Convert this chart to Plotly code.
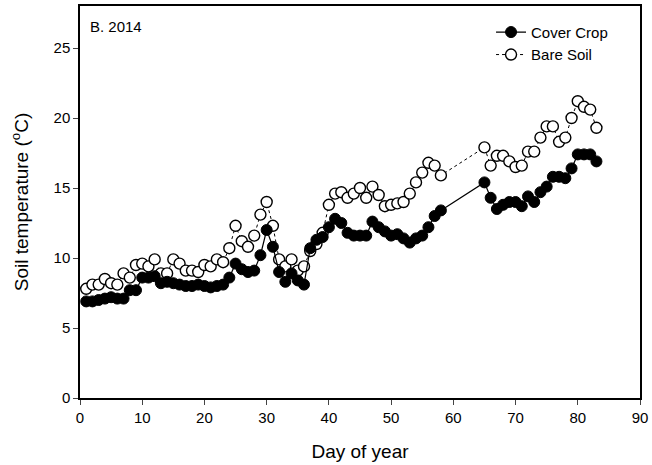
import plotly.graph_objects as go

days_cc = list(range(1, 59)) + list(range(65, 84))
cover_crop = [6.9, 6.9, 7.0, 7.1, 7.2, 7.1, 7.1, 7.7, 7.7, 8.6,
              8.6, 8.7, 8.2, 8.3, 8.2, 8.1, 8.0, 8.0, 8.1, 8.0,
              7.9, 8.0, 8.1, 8.6, 9.6, 9.2, 9.0, 9.1, 10.2, 12.0,
              10.8, 9.0, 8.3, 8.9, 8.4, 8.1, 10.7, 11.3, 11.5, 12.2,
              12.8, 12.5, 11.8, 11.6, 11.6, 11.6, 12.6, 12.2, 11.9, 11.6,
              11.7, 11.4, 11.1, 11.4, 11.6, 12.2, 13.0, 13.4,
              15.4, 14.3, 13.5, 13.8, 14.0, 14.0, 13.7, 14.4, 14.0, 14.7,
              15.1, 15.8, 15.8, 15.7, 16.4, 17.4, 17.4, 17.4, 16.9]

days_bs = list(range(1, 59)) + list(range(65, 84))
bare_soil = [7.8, 8.1, 8.1, 8.5, 8.2, 8.1, 8.9, 8.6, 9.5, 9.6,
             9.4, 9.9, 8.9, 8.9, 9.9, 9.6, 9.1, 9.1, 9.0, 9.5,
             9.4, 9.9, 9.7, 10.7, 12.3, 11.2, 10.8, 11.6, 13.1, 14.0,
             12.3, 9.9, 9.4, 9.9, 9.1, 9.4, 10.5, 11.0, 11.8, 13.8,
             14.6, 14.7, 14.3, 14.6, 15.0, 14.3, 15.1, 14.5, 13.7, 13.8,
             13.9, 14.0, 14.6, 15.4, 16.1, 16.8, 16.6, 15.9,
             17.9, 16.6, 17.3, 17.3, 16.9, 16.5, 16.6, 17.6, 17.6, 18.6,
             19.4, 19.4, 18.3, 18.6, 20.0, 21.2, 20.8, 20.6, 19.3]

x_ticks = [0, 10, 20, 30, 40, 50, 60, 70, 80, 90]
y_ticks = [0, 5, 10, 15, 20, 25]

FONT = "Arial, Liberation Sans, sans-serif"

fig = go.Figure()
fig.add_trace(go.Scatter(
    x=days_bs, y=bare_soil, mode="lines+markers", name="Bare Soil",
    line=dict(color="black", width=1, dash="dot"),
    marker=dict(symbol="circle", size=11, color="white",
                line=dict(color="black", width=1.4)),
))
fig.add_trace(go.Scatter(
    x=days_cc, y=cover_crop, mode="lines+markers", name="Cover Crop",
    line=dict(color="black", width=1.2),
    marker=dict(symbol="circle", size=11, color="black",
                line=dict(color="black", width=1)),
))

fig.update_layout(
    width=652, height=465,
    margin=dict(l=80, r=12, t=6, b=67),
    paper_bgcolor="white", plot_bgcolor="white",
    font=dict(family=FONT, size=15, color="black"),
    showlegend=True,
    legend=dict(x=0.734, y=0.975, xanchor="left", yanchor="top",
                traceorder="reversed", bgcolor="rgba(0,0,0,0)",
                font=dict(size=15), itemwidth=30, tracegroupgap=0),
    annotations=[dict(text="B. 2014", x=0.014, y=0.975, xref="paper", yref="paper",
                      xanchor="left", yanchor="top", showarrow=False,
                      font=dict(size=15))],
)
fig.update_xaxes(
    range=[0, 90], tickvals=x_ticks, ticks="outside", ticklen=5, tickwidth=1.2,
    showline=True, linecolor="black", linewidth=1.5, mirror=True,
    showgrid=False, zeroline=False, automargin=False,
    tickfont=dict(size=15),
    title=dict(text="Day of year", font=dict(size=19), standoff=20),
)
fig.update_yaxes(
    range=[0, 28], tickvals=y_ticks, ticks="outside", ticklen=5, tickwidth=1.2,
    showline=True, linecolor="black", linewidth=1.5, mirror=True,
    showgrid=False, zeroline=False, automargin=False,
    tickfont=dict(size=15),
    title=dict(text="Soil temperature (<sup>o</sup>C)", font=dict(size=19), standoff=20),
)

fig.write_html("out.html", config={"displayModeBar": False},
               post_script="document.body.style.margin='0';")
